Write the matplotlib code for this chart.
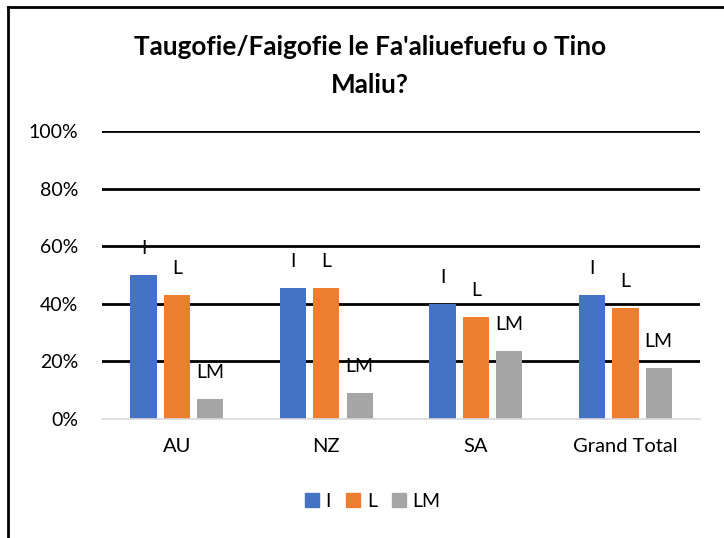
import matplotlib
matplotlib.use("Agg")
import matplotlib.pyplot as plt
import numpy as np
from matplotlib.lines import Line2D

categories = ["AU", "NZ", "SA", "Grand Total"]
series_names = ["I", "L", "LM"]
I_vals = [0.50, 0.455, 0.40, 0.43]
L_vals = [0.43, 0.455, 0.355, 0.386]
LM_vals = [0.07, 0.09, 0.236, 0.178]
colors = ["#4472C4", "#ED7D31", "#A5A5A5"]
yticks = [0, 0.2, 0.4, 0.6, 0.8, 1.0]
ytick_labels = ["0%", "20%", "40%", "60%", "80%", "100%"]
title = "Taugofie/Faigofie le Fa'aliuefuefu o Tino\nMaliu?"

plt.rcParams['font.family'] = ['Lato', 'DejaVu Sans']

fig = plt.figure(figsize=(7.24, 5.38), dpi=100)
ax = fig.add_axes([0.141, 0.2212, 0.826, 0.5353])

x = np.arange(len(categories))
width = 0.176
offset = 0.223
all_vals = [I_vals, L_vals, LM_vals]
for i, (name, vals, c) in enumerate(zip(series_names, all_vals, colors)):
    xs = x + (i - 1) * offset
    ax.bar(xs, vals, width=width, color=c, label=name, zorder=3)
    for xi, v in zip(xs, vals):
        ax.annotate(name, (xi, v), xytext=(0, 19), textcoords="offset points",
                    ha="center", va="center", fontsize=14, color="#000000", zorder=4)

ax.set_ylim(0, 1.0)
ax.set_xlim(-0.5, len(categories) - 0.5)
ax.set_yticks(yticks)
ax.set_yticklabels(ytick_labels, fontsize=14)
ax.set_xticks(x)
ax.set_xticklabels(categories, fontsize=14.5)
ax.tick_params(axis="y", length=0, pad=17)
ax.tick_params(axis="x", length=0, pad=14)
for s in ["top", "right", "left"]:
    ax.spines[s].set_visible(False)
ax.spines["bottom"].set_color("#D9D9D9")
ax.spines["bottom"].set_linewidth(1.2)
ax.spines["bottom"].set_zorder(5)
for t in yticks[1:]:
    ax.axhline(t, color="black", linewidth=2, zorder=1)

fig.text(0.511, 0.877, title, ha="center", va="center", fontsize=18.8,
         fontweight="bold", linespacing=1.7)

handles = [plt.Rectangle((0, 0), 1, 1, color=c) for c in colors]
fig.legend(handles, series_names, loc="center", bbox_to_anchor=(0.515, 0.068),
           ncol=3, frameon=False, fontsize=14, handlelength=0.7, handleheight=0.7,
           columnspacing=0.8, handletextpad=0.35)

# chart border (left and top visible)
fig.add_artist(Line2D([8/724, 8/724], [0, 1 - 7/538], color="black", linewidth=2,
                      transform=fig.transFigure))
fig.add_artist(Line2D([8/724, 1], [1 - 7/538, 1 - 7/538], color="black", linewidth=2,
                      transform=fig.transFigure))

fig.savefig("out.png", dpi=100)
